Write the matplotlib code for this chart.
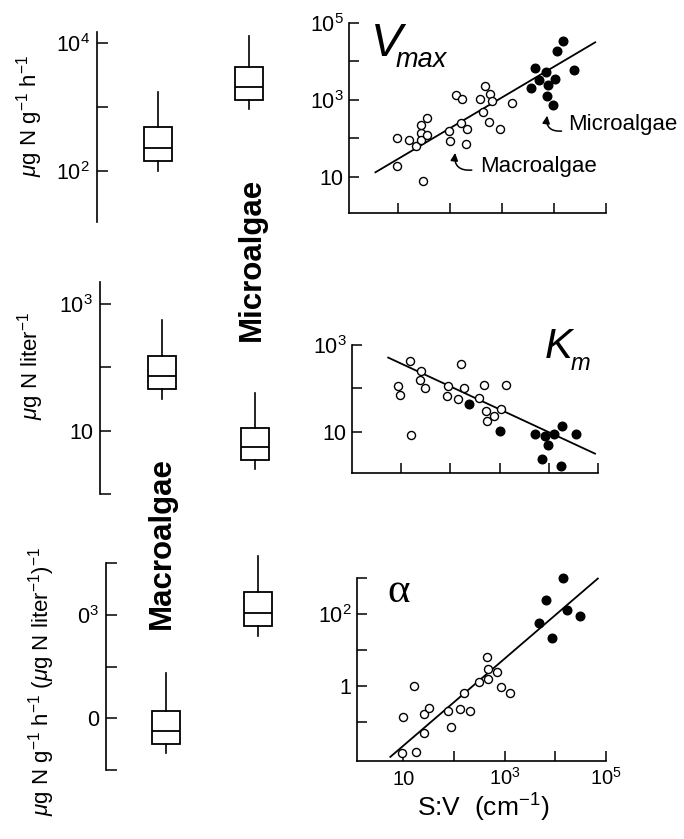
import numpy as np
import matplotlib
matplotlib.use("Agg")
import matplotlib.pyplot as plt
from matplotlib.ticker import NullLocator

plt.rcParams['font.family'] = ['Liberation Sans', 'DejaVu Sans']
plt.rcParams['mathtext.fontset'] = 'custom'
plt.rcParams['mathtext.rm'] = 'Liberation Sans'
plt.rcParams['mathtext.it'] = 'Liberation Sans:italic'
plt.rcParams['mathtext.bf'] = 'Liberation Sans:bold'

# ---------------- data ----------------
groups = ["Macroalgae", "Microalgae"]
stat_keys = ["whislo", "q1", "med", "q3", "whishi"]
# box summaries (whisker low, q1, median, q3, whisker high)
vmax_macro_box = [100, 141, 225, 480, 1690]
vmax_micro_box = [910, 1290, 2040, 4200, 13000]
km_macro_box = [32, 46, 72, 151, 555]
km_micro_box = [2.5, 3.5, 5.5, 11, 40]
alpha_macro_box = [2.1, 3.2, 5.6, 14, 74]
alpha_micro_box = [385, 600, 1080, 2700, 13500]

# Vmax vs S:V
vmax_macro_sv = [9.7, 16.7, 21.8, 27.5, 28.4, 28.4, 36.5, 36.5, 9.7, 31, 96, 100, 162,
                 214, 204, 128, 173, 372, 468, 589, 650, 436, 562, 930, 1560]
vmax_macro_v = [102, 93, 62, 138, 225, 93, 338, 124, 19.5, 7.7, 152, 83, 250,
                174, 72, 1350, 1070, 1070, 2300, 1410, 910, 500, 260, 174, 850]
vmax_micro_sv = [4350, 7100, 5250, 3660, 7600, 10400, 7400, 9400, 11200, 14800, 24000]
vmax_micro_v = [6900, 5200, 3300, 2000, 2450, 3500, 1260, 740, 18600, 34000, 6000]

# Km vs S:V
km_macro_sv = [15.5, 8.7, 9.4, 25.4, 24.6, 31, 16.2, 89, 85, 147, 186, 162, 387,
               476, 528, 552, 790, 1070, 1370]
km_macro_v = [427, 113, 70, 257, 156, 104, 8.4, 113, 69, 56, 105, 357, 59,
              123, 30, 18, 23, 33, 121]
km_micro_sv = [245, 1030, 5350, 8500, 12800, 9800, 18300, 35000, 7400, 17800]
km_micro_v = [45, 10.5, 9.2, 8.1, 9.2, 5.1, 13.7, 8.8, 2.4, 1.65]

# alpha vs S:V
alpha_macro_sv = [9.7, 17.8, 10, 16.1, 25.5, 25.5, 32.5, 75, 87, 135, 209, 155,
                  310, 447, 468, 479, 708, 851, 1300]
alpha_macro_v = [0.0135, 0.015, 0.135, 1.0, 0.049, 0.17, 0.24, 0.20, 0.071, 0.23,
                 0.20, 0.66, 1.3, 6.5, 2.9, 1.55, 2.4, 0.95, 0.66]
alpha_micro_sv = [4700, 6600, 8800, 14400, 16700, 31000]
alpha_micro_v = [55, 245, 21, 980, 129, 88]

# regression fits: log10(y) = slope*log10(x) + intercept, drawn over x range
vmax_fit = dict(slope=0.80, intercept=0.664, xrange=(3.7, 62000))
km_fit = dict(slope=-0.526, intercept=3.10, xrange=(5.5, 87000))
alpha_fit = dict(slope=1.21, intercept=-2.87, xrange=(5.6, 69000))

# ---------------- figure ----------------
W, H = 684, 839
fig = plt.figure(figsize=(W / 100, H / 100), dpi=100)


def px_axes(left, top, right, bottom):
    return fig.add_axes([left / W, 1 - bottom / H, (right - left) / W, (bottom - top) / H])


def box_panel(ax, boxes, xlim, ylim, yticks, ylabels, ylabel, ylabel_xy):
    stats = []
    for b, name in zip(boxes, groups):
        d = dict(zip(stat_keys, b))
        d['fliers'] = []
        d['label'] = name
        stats.append(d)
    arts = ax.bxp(stats, positions=[1, 2], widths=0.31, showcaps=False,
                  showfliers=False, patch_artist=True, manage_ticks=False,
                  boxprops=dict(facecolor='white', edgecolor='black', linewidth=1.3),
                  medianprops=dict(color='black', linewidth=1.3),
                  whiskerprops=dict(color='black', linewidth=1.2))
    for key in arts:
        for a in arts[key]:
            a.set_clip_on(False)
    ax.set_yscale('log')
    ax.set_xlim(*xlim)
    ax.set_ylim(*ylim)
    for s in ['top', 'right', 'bottom']:
        ax.spines[s].set_visible(False)
    ax.spines['left'].set_linewidth(1.2)
    ax.set_xticks([])
    ax.set_yticks(yticks)
    ax.set_yticklabels(ylabels)
    ax.yaxis.set_minor_locator(NullLocator())
    ax.tick_params(axis='y', direction='in', length=8, width=1.1, labelsize=15.5, pad=5)
    ax.patch.set_visible(False)
    fig.text(ylabel_xy[0] / W, 1 - ylabel_xy[1] / H, ylabel, rotation=90,
             ha='center', va='center', fontsize=16)


def scatter_panel(ax, open_xy, filled_xy, fit, xlim, ylim, yticks, ylabels, xlabels):
    ax.plot(open_xy[0], open_xy[1], 'o', mfc='white', mec='black', ms=5.8, mew=1.0,
            clip_on=False, zorder=3)
    ax.plot(filled_xy[0], filled_xy[1], 'o', mfc='black', mec='black', ms=6.2, mew=1.0,
            clip_on=False, zorder=3)
    fx = np.array(fit['xrange'], dtype=float)
    fy = 10 ** (fit['slope'] * np.log10(fx) + fit['intercept'])
    ax.plot(fx, fy, color='black', lw=1.3, zorder=2, clip_on=False)
    ax.set_xscale('log')
    ax.set_yscale('log')
    ax.set_xlim(*xlim)
    ax.set_ylim(*ylim)
    for s in ['top', 'right']:
        ax.spines[s].set_visible(False)
    ax.spines['left'].set_linewidth(1.2)
    ax.spines['bottom'].set_linewidth(1.2)
    ax.set_xticks([1e1, 1e2, 1e3, 1e4, 1e5])
    ax.set_xticklabels(xlabels)
    ax.set_yticks(yticks)
    ax.set_yticklabels(ylabels)
    ax.xaxis.set_minor_locator(NullLocator())
    ax.yaxis.set_minor_locator(NullLocator())
    ax.tick_params(axis='both', direction='in', length=7, width=1.1)
    ax.tick_params(axis='y', labelsize=15.5, pad=4)
    ax.tick_params(axis='x', labelsize=14.5, pad=17)
    for lbl in ax.get_xticklabels():
        lbl.set_va('baseline')
    ax.patch.set_visible(False)


sup = lambda n: r"$10^{%d}$" % n
blank5 = [""] * 5

# ---- right panels ----
ax1 = px_axes(349, 23, 606, 213)
scatter_panel(ax1, (vmax_macro_sv, vmax_macro_v), (vmax_micro_sv, vmax_micro_v), vmax_fit,
              (10 ** 0.06, 1e5), (10 ** 0.06, 1e5),
              [1e1, 1e2, 1e3, 1e4, 1e5], ["10", "", sup(3), "", sup(5)], blank5)
ax1.text(0.085, 0.826, "V", transform=ax1.transAxes, fontsize=34, fontstyle='italic',
         ha='left', va='baseline')
ax1.text(0.183, 0.768, "max", transform=ax1.transAxes, fontsize=19.5, fontstyle='italic',
         ha='left', va='baseline')
ax1.text(18600, 224, "Microalgae", fontsize=16, ha='left', va='center')
ax1.annotate("", xy=(7400, 390), xytext=(14000, 155),
             arrowprops=dict(arrowstyle='-|>,head_length=0.45,head_width=0.22',
                             connectionstyle='arc3,rad=-0.6', lw=1.1, color='black',
                             shrinkA=0, shrinkB=0))
ax1.text(380, 19, "Macroalgae", fontsize=16, ha='left', va='center')
ax1.annotate("", xy=(126, 42), xytext=(263, 15),
             arrowprops=dict(arrowstyle='-|>,head_length=0.45,head_width=0.22',
                             connectionstyle='arc3,rad=-0.6', lw=1.1, color='black',
                             shrinkA=0, shrinkB=0))

ax2 = px_axes(352, 345, 598, 473)
scatter_panel(ax2, (km_macro_sv, km_macro_v), (km_micro_sv, km_micro_v), km_fit,
              (10 ** 0.005, 1e5), (10 ** 0.057, 1e3),
              [1e1, 1e2, 1e3], ["10", "", sup(3)], blank5)
ax2.text(0.785, 0.898, "K", transform=ax2.transAxes, fontsize=30, fontstyle='italic',
         ha='left', va='baseline')
ax2.text(0.89, 0.805, "m", transform=ax2.transAxes, fontsize=17, fontstyle='italic',
         ha='left', va='baseline')

ax3 = px_axes(357, 578, 606, 761)
scatter_panel(ax3, (alpha_macro_sv, alpha_macro_v), (alpha_micro_sv, alpha_micro_v), alpha_fit,
              (10 ** 0.09, 1e5), (10 ** -2.08, 1e3),
              [1e-1, 1, 1e1, 1e2, 1e3], ["", "1", "", sup(2), ""],
              ["10", "", sup(3), "", sup(5)])
ax3.text(0.12, 0.869, "\u03b1", transform=ax3.transAxes, fontsize=31,
         family=['Liberation Serif', 'DejaVu Serif'], ha='left', va='baseline')

fig.text(483 / W, 1 - 817 / H, r"S:V  (cm$^{-1}$)", ha='center', va='baseline', fontsize=19)

# ---- left box panels ----
axL1 = px_axes(97, 32, 290, 222)
box_panel(axL1, [vmax_macro_box, vmax_micro_box], (0.33, 2.45), (10 ** 1.2, 10 ** 4.17),
          [1e2, 1e3, 1e4], [sup(2), "", sup(4)],
          r"$\mu$g N g$^{-1}$ h$^{-1}$", (30, 116))

axL2 = px_axes(100, 282, 290, 494)
box_panel(axL2, [km_macro_box, km_micro_box], (0.333, 2.376), (1, 10 ** 3.35),
          [1, 1e1, 1e2, 1e3], ["", "10", "", sup(3)],
          r"$\mu$g N liter$^{-1}$", (31, 366))

axL3 = px_axes(106, 563, 290, 770)
box_panel(axL3, [alpha_macro_box, alpha_micro_box], (0.35, 2.35), (1, 1e4),
          [1, 1e1, 1e2, 1e3, 1e4], ["", "0", "", r"$0^{3}$", ""],
          r"$\mu$g N g$^{-1}$ h$^{-1}$ ($\mu$g N liter$^{-1}$)$^{-1}$", (42, 681))

# big group labels
fig.text(252 / W, 1 - 259 / H, groups[1], rotation=90, ha='center', va='center',
         fontsize=22.5, fontweight='bold')
fig.text(162 / W, 1 - 543 / H, groups[0], rotation=90, ha='center', va='center',
         fontsize=22.5, fontweight='bold')

fig.savefig("out.png", dpi=100)
